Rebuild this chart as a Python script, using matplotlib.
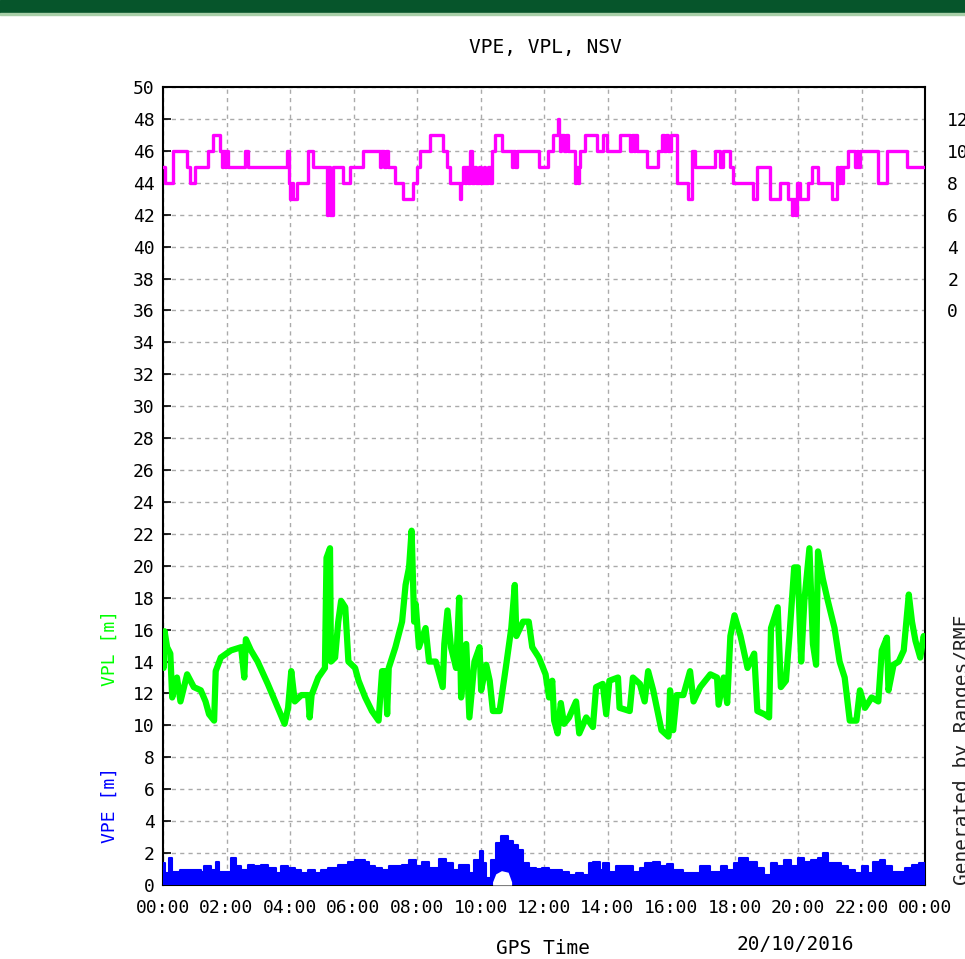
import numpy as np
import matplotlib.pyplot as plt
from matplotlib.patches import Rectangle

plt.rcParams['font.family'] = ['DejaVu Sans Mono']

# NSV (nombre de satellites), en escalier
nsv_t = [0.00, 0.06, 0.33, 0.75, 0.85, 1.01, 1.43, 1.59, 1.80, 1.85, 1.90, 1.95, 2.00, 2.06,
         2.58, 2.69, 3.90, 3.97, 4.00, 4.05, 4.10, 4.21, 4.58, 4.73, 5.16, 5.20, 5.25, 5.36,
         5.68, 5.89, 6.31, 6.83, 6.88, 6.95, 7.02, 7.08, 7.31, 7.57, 7.88, 7.99, 8.09, 8.41,
         8.83, 8.94, 9.04, 9.35, 9.38, 9.45, 9.50, 9.55, 9.60, 9.67, 9.72, 9.80, 9.85, 9.95,
         10.00, 10.10, 10.15, 10.25, 10.30, 10.35, 10.46, 10.67, 10.98, 11.03, 11.08, 11.14,
         11.85, 12.14, 12.29, 12.45, 12.47, 12.50, 12.55, 12.62, 12.68, 12.75, 12.98, 13.02,
         13.06, 13.10, 13.13, 13.29, 13.66, 13.87, 13.97, 14.39, 14.71, 14.76, 14.82, 14.87,
         14.92, 15.23, 15.60, 15.71, 15.78, 15.85, 15.92, 16.00, 16.18, 16.55, 16.65, 16.76,
         17.39, 17.54, 17.65, 17.86, 17.96, 18.59, 18.70, 19.12, 19.43, 19.69, 19.80, 19.85,
         19.90, 19.96, 20.06, 20.33, 20.43, 20.64, 21.06, 21.22, 21.27, 21.32, 21.38, 21.43,
         21.58, 21.80, 21.85, 21.90, 21.95, 22.53, 22.79, 23.42, 24.00]
nsv_v = [9, 8, 10, 9, 8, 9, 10, 11, 10, 9, 10, 9, 10, 9,
         10, 9, 10, 8, 7, 8, 7, 8, 10, 9, 6, 9, 6, 9,
         8, 9, 10, 9, 10, 9, 10, 9, 8, 7, 8, 9, 10, 11,
         10, 9, 8, 7, 8, 9, 8, 9, 8, 10, 8, 9, 8, 9,
         8, 9, 8, 9, 8, 10, 11, 10, 9, 10, 9, 10,
         9, 10, 11, 12, 11, 10, 11, 10, 11, 10, 8, 9,
         8, 9, 10, 11, 10, 11, 10, 11, 10, 11, 10, 11,
         10, 9, 10, 11, 10, 11, 10, 11, 8, 7, 10, 9,
         10, 9, 10, 9, 8, 7, 9, 7, 8, 7, 6, 7,
         6, 8, 7, 8, 9, 8, 7, 9, 8, 9, 8, 9,
         10, 9, 10, 9, 10, 8, 10, 9, 9]

# VPL [m]
vpl_t = [0.00, 0.02, 0.05, 0.13, 0.23, 0.29, 0.44, 0.55, 0.76, 0.97, 1.19, 1.34, 1.45, 1.61,
         1.66, 1.82, 2.14, 2.46, 2.56, 2.61, 2.77, 2.98, 3.30, 3.62, 3.83, 3.94, 4.04, 4.15,
         4.36, 4.57, 4.62, 4.68, 4.89, 5.10, 5.15, 5.26, 5.29, 5.42, 5.52, 5.61, 5.74, 5.84,
         6.05, 6.16, 6.37, 6.58, 6.79, 6.90, 7.01, 7.06, 7.11, 7.32, 7.53, 7.64, 7.75, 7.83,
         7.91, 7.96, 8.06, 8.27, 8.38, 8.59, 8.81, 8.86, 8.96, 9.07, 9.23, 9.33, 9.39, 9.55,
         9.65, 9.81, 9.97, 10.02, 10.18, 10.29, 10.39, 10.60, 10.81, 10.97, 11.08, 11.13,
         11.34, 11.52, 11.63, 11.84, 12.05, 12.16, 12.26, 12.32, 12.43, 12.53, 12.63, 12.79,
         13.01, 13.11, 13.33, 13.54, 13.64, 13.85, 13.96, 14.06, 14.33, 14.38, 14.70, 14.80,
         15.02, 15.17, 15.28, 15.44, 15.70, 15.92, 15.97, 16.07, 16.18, 16.39, 16.60, 16.71,
         16.92, 17.24, 17.45, 17.50, 17.66, 17.77, 17.87, 18.00, 18.19, 18.41, 18.62, 18.72,
         18.94, 19.09, 19.15, 19.36, 19.46, 19.62, 19.73, 19.88, 19.99, 20.10, 20.20, 20.36,
         20.47, 20.57, 20.63, 20.78, 20.94, 21.15, 21.31, 21.47, 21.63, 21.84, 21.95, 22.11,
         22.32, 22.53, 22.64, 22.80, 22.85, 23.01, 23.17, 23.33, 23.49, 23.59, 23.70, 23.85,
         23.96, 24.00]
vpl_v = [14.4, 13.6, 15.9, 14.9, 14.5, 11.75, 13.0, 11.5, 13.2, 12.4, 12.2, 11.5, 10.7, 10.3,
         13.4, 14.25, 14.7, 14.9, 13.0, 15.4, 14.7, 14.0, 12.6, 11.1, 10.1, 11.1, 13.4, 11.5,
         11.9, 11.9, 10.5, 11.9, 13.0, 13.6, 20.5, 21.1, 14.0, 14.25, 16.5, 17.8, 17.4, 14.0,
         13.6, 12.8, 11.75, 10.9, 10.3, 13.4, 13.4, 10.7, 13.6, 14.9, 16.5, 18.8, 19.9, 22.2,
         16.5, 17.6, 14.9, 16.1, 14.0, 14.0, 12.4, 15.1, 17.2, 14.9, 13.6, 18.0, 11.75, 15.1,
         10.5, 14.0, 14.9, 12.2, 13.8, 12.8, 10.9, 10.9, 13.8, 16.1, 18.8, 15.6,
         16.5, 16.5, 14.9, 14.25, 13.2, 11.75, 12.8, 10.3, 9.5, 11.4, 10.1, 10.5,
         11.5, 9.5, 10.5, 9.9, 12.4, 12.6, 10.7, 12.8, 13.0, 11.1, 10.9, 13.0,
         12.6, 11.5, 13.4, 12.2, 9.7, 9.3, 12.2, 9.7, 11.9, 11.9, 13.4, 11.5,
         12.4, 13.2, 13.0, 11.3, 13.0, 11.4, 15.6, 16.9, 15.6, 13.6, 14.5, 10.9,
         10.7, 10.5, 16.1, 17.4, 12.4, 12.8, 15.6, 19.9, 19.9, 14.0, 17.8, 21.1,
         15.1, 13.8, 20.9, 19.2, 17.8, 16.1, 14.0, 13.0, 10.3, 10.3, 12.2, 11.1,
         11.75, 11.5, 14.7, 15.5, 12.2, 13.8, 14.0, 14.7, 18.2, 16.5, 15.3, 14.25,
         15.6, 15.1]

# VPE [m] (enveloppe haute)
vpe_t = [0.00, 0.07, 0.18, 0.29, 0.55, 0.76, 1.19, 1.29, 1.50, 1.66, 1.77, 2.14, 2.30, 2.46,
         2.67, 2.88, 3.09, 3.30, 3.57, 3.72, 3.94, 4.15, 4.36, 4.57, 4.78, 4.99, 5.21, 5.52,
         5.84, 6.05, 6.37, 6.48, 6.69, 6.90, 7.11, 7.32, 7.53, 7.75, 7.96, 8.17, 8.38, 8.70,
         8.91, 9.12, 9.33, 9.65, 9.81, 9.97, 10.07, 10.18, 10.34, 10.50, 10.66, 10.87, 11.03,
         11.19, 11.34, 11.52, 11.74, 11.95, 12.16, 12.37, 12.58, 12.79, 13.01, 13.22, 13.43,
         13.53, 13.75, 13.85, 14.06, 14.28, 14.59, 14.80, 15.02, 15.17, 15.44, 15.65, 15.86,
         16.07, 16.39, 16.71, 16.92, 17.24, 17.56, 17.77, 17.98, 18.14, 18.41, 18.72, 18.94,
         19.15, 19.35, 19.57, 19.78, 19.99, 20.20, 20.41, 20.62, 20.78, 20.94, 21.15, 21.36,
         21.58, 21.79, 22.00, 22.21, 22.37, 22.58, 22.74, 22.95, 23.16, 23.38, 23.59, 23.80,
         24.00]
vpe_v = [1.37, 0.74, 1.68, 0.84, 0.95, 0.95, 0.84, 1.16, 0.95, 1.41, 0.84, 1.68, 1.16, 0.95,
         1.26, 1.16, 1.26, 1.05, 0.74, 1.16, 1.05, 0.95, 0.74, 0.95, 0.74, 0.95, 1.05, 1.26,
         1.47, 1.58, 1.47, 1.16, 1.05, 0.95, 1.16, 1.16, 1.26, 1.58, 1.16, 1.47, 1.05, 1.62,
         1.37, 0.95, 1.26, 0.74, 1.58, 2.10, 1.37, 0.42, 1.58, 2.63, 3.05, 2.74, 2.53,
         2.21, 1.37, 1.05, 0.99, 1.05, 0.95, 0.95, 0.84, 0.63, 0.74, 0.63, 1.37,
         1.47, 0.95, 1.37, 0.84, 1.16, 1.16, 0.84, 1.05, 1.37, 1.41, 1.16, 1.33,
         0.95, 0.74, 0.78, 1.16, 0.84, 1.16, 0.95, 1.37, 1.68, 1.47, 1.05, 0.63,
         1.37, 1.16, 1.58, 1.16, 1.68, 1.47, 1.58, 1.68, 2.00, 1.37, 1.37, 1.16,
         0.95, 0.74, 1.16, 0.74, 1.47, 1.58, 1.16, 0.84, 0.84, 1.05, 1.26, 1.37,
         1.05]

# trou sous la bosse de VPE
gap_t = [10.38, 10.48, 10.66, 10.87, 10.98]
gap_v = [0.20, 0.70, 0.90, 0.80, 0.20]

x_labels = ['00:00', '02:00', '04:00', '06:00', '08:00', '10:00', '12:00',
            '14:00', '16:00', '18:00', '20:00', '22:00', '00:00']

fig = plt.figure(figsize=(9.65, 9.59), dpi=100)

# bandeau vert en haut
fig.patches.append(Rectangle((0, 1 - 13 / 959), 1, 13 / 959, transform=fig.transFigure,
                             color='#06552b', zorder=0))
fig.patches.append(Rectangle((0, 1 - 15 / 959), 1, 2 / 959, transform=fig.transFigure,
                             color='#a8cfa8', zorder=0))

ax = fig.add_axes([163 / 965, 74 / 959, 762 / 965, 798 / 959])
ax.set_xlim(0, 24)
ax.set_ylim(0, 50)
ax.set_xticks(np.arange(0, 25, 2))
ax.set_xticklabels(x_labels)
ax.set_yticks(np.arange(0, 51, 2))
ax.grid(True, color='#aaaaaa', linestyle=(0, (3, 3)), linewidth=1)
ax.tick_params(direction='in', length=6, width=1.2, right=True, labelsize=13, pad=6)
ax.tick_params(axis='x', pad=10, length=0)
for s in ax.spines.values():
    s.set_linewidth(1.5)

ax.fill_between(vpe_t, 0, vpe_v, step='post', color='blue', linewidth=0, zorder=3)
ax.step(vpe_t, vpe_v, where='post', color='blue', linewidth=1.5, zorder=3)
ax.fill_between(gap_t, 0, gap_v, color='white', linewidth=0, zorder=3)
ax.plot(vpl_t, vpl_v, color='#00ff00', linewidth=4.5, zorder=3)

# axe de droite pour NSV
ax2 = ax.twinx()
ax2.set_ylim(-36, 14)
ax2.set_yticks(np.arange(0, 13, 2))
ax2.tick_params(length=0, labelsize=13, pad=16)
ax2.step(nsv_t, nsv_v, where='post', color='#ff00ff', linewidth=2.4, zorder=3)
for s in ax2.spines.values():
    s.set_visible(False)

fig.text(545 / 965, 1 - 47 / 959, 'VPE, VPL, NSV', ha='center', va='center', fontsize=14)
fig.text(543 / 965, 1 - 948 / 959, 'GPS Time', ha='center', va='center', fontsize=14)
fig.text(795 / 965, 1 - 945 / 959, '20/10/2016', ha='center', va='center', fontsize=14)
fig.text(110 / 965, 1 - 648 / 959, 'VPL [m]', rotation=90, ha='center', va='center',
         fontsize=13, color='#00ff00')
fig.text(110 / 965, 1 - 805 / 959, 'VPE [m]', rotation=90, ha='center', va='center',
         fontsize=13, color='blue')
fig.text(962 / 965, 1 - 885 / 959, 'Generated by Ranges/RMF', rotation=90, ha='center',
         va='bottom', fontsize=14, color='#222222')

fig.savefig('out.png', dpi=100)
